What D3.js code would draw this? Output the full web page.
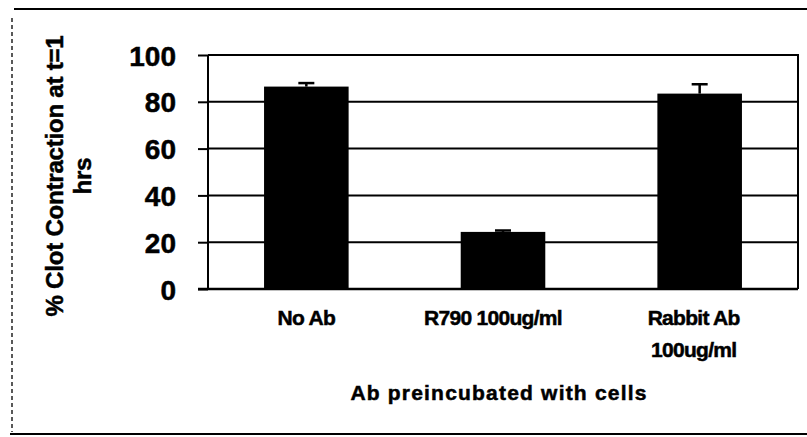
<!DOCTYPE html>
<html>
<head>
<meta charset="utf-8">
<script src="https://cdn.jsdelivr.net/npm/d3@7"></script>
<style>
  html, body { margin: 0; padding: 0; background: #fff; }
  svg { display: block; }
  text { font-family: "Liberation Sans", Arial, sans-serif; font-weight: bold; fill: #000;
         stroke: #000; stroke-width: 0.5px; }
</style>
</head>
<body>
<svg id="chart" width="807" height="437"></svg>
<script>
// Clot contraction after one hour, by antibody pre-incubation
const categories = [["No Ab"], ["R790 100ug/ml"], ["Rabbit Ab", "100ug/ml"]];
const means = [86.5, 24.4, 83.5];
const errors = [1.5, 0.6, 4.0];
const yTicks = [0, 20, 40, 60, 80, 100];
const yTitle = ["% Clot Contraction at t=1", "hrs"];
const xTitle = "Ab preincubated with cells";

const svg = d3.select("#chart");
const W = 807, H = 437;
const plot = { left: 208, right: 798, top: 55, bottom: 289 };

// Outer frame of the figure
svg.append("line").attr("x1", 14).attr("x2", W).attr("y1", 9).attr("y2", 9)
  .attr("stroke", "#000").attr("stroke-width", 2);
svg.append("line").attr("x1", 12).attr("x2", 12).attr("y1", 18).attr("y2", 432)
  .attr("stroke", "#000").attr("stroke-width", 1.3).attr("stroke-dasharray", "4,3");
svg.append("line").attr("x1", 10).attr("x2", W).attr("y1", 434).attr("y2", 434)
  .attr("stroke", "#000").attr("stroke-width", 2);

const x = d3.scaleBand()
  .domain(d3.range(categories.length))
  .range([plot.left, plot.right])
  .paddingInner(0.57).paddingOuter(0.285);

const y = d3.scaleLinear().domain([0, 100]).range([plot.bottom, plot.top]);

// Horizontal gridlines
svg.append("g").selectAll("line").data(yTicks.filter(t => t > 0 && t < 100)).join("line")
  .attr("x1", plot.left).attr("x2", plot.right)
  .attr("y1", d => y(d)).attr("y2", d => y(d))
  .attr("stroke", "#000").attr("stroke-width", 2);

// Plot area box (top and right edges)
svg.append("path")
  .attr("d", `M${plot.left},${y(100)}H${plot.right}V${plot.bottom}`)
  .attr("fill", "none").attr("stroke", "#000").attr("stroke-width", 2);

// Bars
svg.append("g").selectAll("rect").data(means).join("rect")
  .attr("x", (d, i) => x(i))
  .attr("width", x.bandwidth())
  .attr("y", d => y(d))
  .attr("height", d => y(0) - y(d))
  .attr("fill", "#000");

// Error bars (upper only)
const eb = svg.append("g").attr("stroke", "#000").attr("stroke-width", 2.5);
means.forEach((m, i) => {
  const cx = x(i) + x.bandwidth() / 2;
  eb.append("line").attr("x1", cx).attr("x2", cx).attr("y1", y(m)).attr("y2", y(m + errors[i]));
  eb.append("line").attr("x1", cx - 8).attr("x2", cx + 8)
    .attr("y1", y(m + errors[i])).attr("y2", y(m + errors[i]));
});

// Y axis
const yAxis = d3.axisLeft(y).tickValues(yTicks).tickSize(10).tickPadding(22);
const gy = svg.append("g").attr("transform", `translate(${plot.left},0)`).call(yAxis);
gy.select(".domain").attr("stroke", "#000").attr("stroke-width", 2)
  .attr("d", `M0,${plot.top}V${plot.bottom}`);
gy.selectAll(".tick line").attr("stroke", "#000").attr("stroke-width", 2);
gy.selectAll(".tick text").style("font-size", "28px").attr("fill", "#000")
  .attr("dy", "0.36em");

// X axis baseline
svg.append("line").attr("x1", plot.left - 10).attr("x2", plot.right)
  .attr("y1", plot.bottom).attr("y2", plot.bottom)
  .attr("stroke", "#000").attr("stroke-width", 2.5);

// Category labels
const labelShift = [0, -10, -6];
const xl = svg.append("g");
categories.forEach((lines, i) => {
  const cx = x(i) + x.bandwidth() / 2 + labelShift[i];
  const t = xl.append("text").attr("text-anchor", "middle")
    .attr("x", cx).attr("y", 325).style("font-size", "21px").style("letter-spacing", "-0.7px");
  lines.forEach((s, k) => t.append("tspan").attr("x", cx).attr("dy", k === 0 ? 0 : 32).text(s));
});

// Axis titles
svg.append("text").attr("text-anchor", "middle")
  .attr("x", 499).attr("y", 400)
  .style("font-size", "21px").style("letter-spacing", "1.2px")
  .text(xTitle);

const yt = svg.append("text").attr("text-anchor", "middle")
  .attr("transform", "translate(63,176) rotate(-90)")
  .style("font-size", "24px").style("letter-spacing", "-0.2px");
yTitle.forEach((s, k) => yt.append("tspan").attr("x", 0).attr("dy", k === 0 ? 0 : 28).text(s));
</script>
</body>
</html>
